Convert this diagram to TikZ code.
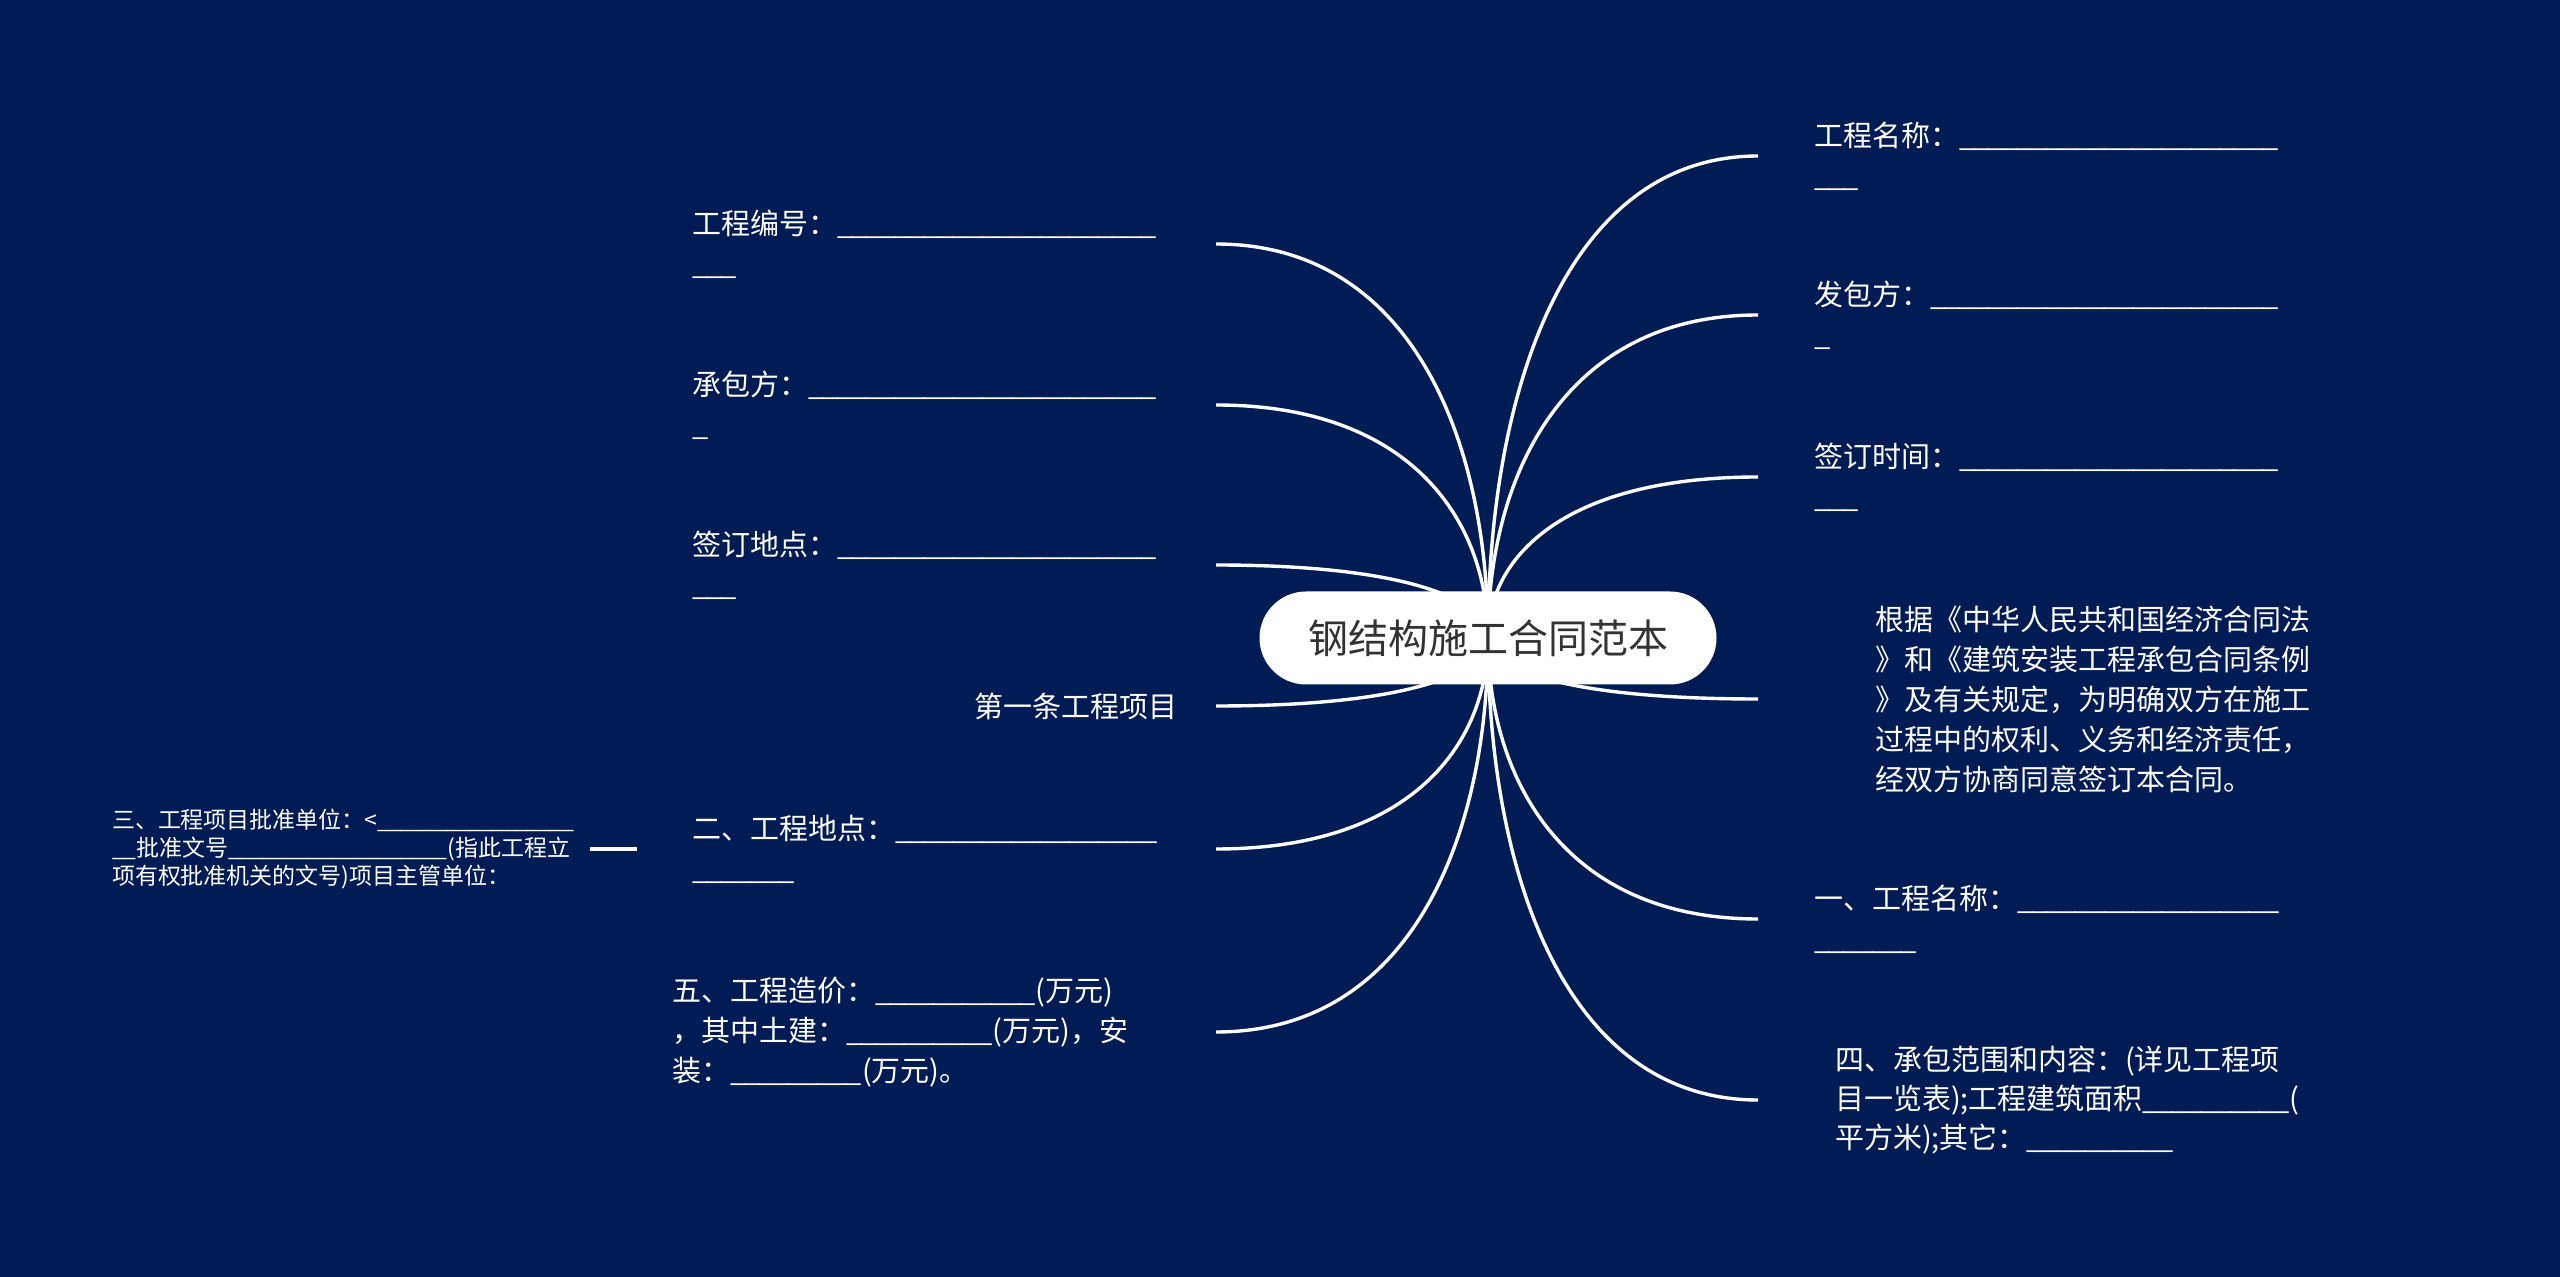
\documentclass[tikz,border=0pt]{standalone}
\usepackage{fontspec}
\setmainfont{Noto Sans CJK SC}
\usetikzlibrary{calc,shapes.misc}
\definecolor{bgblue}{RGB}{1,27,84}
\definecolor{ctext}{RGB}{51,51,51}
\ExplSyntaxOn
\NewDocumentCommand\usc{m}{\prg_replicate:nn{#1}{\textunderscore\kern-0.06em}\kern0.06em}
\ExplSyntaxOff
\pgfdeclarelayer{back}
\pgfsetlayers{back,main}
\newcommand\mmlink[1]{\draw[conn] (c.center) .. controls ($(c.center)!0.5!(c.center|-#1)$) and ($(#1)!0.72!(c.center|-#1)$) .. (#1);}
\begin{document}
\begin{tikzpicture}[x=0.5pt,y=-0.5pt,
  conn/.style={draw=white,line width=1.7pt},
  leaf/.style={text=white,inner sep=0pt,outer sep=0pt,align=left,font=\fontsize{14.5pt}{20pt}\selectfont},
  small/.style={text=white,inner sep=0pt,outer sep=0pt,align=left,font=\fontsize{11.5pt}{14pt}\selectfont},
  centre/.style={rounded rectangle,fill=white,minimum width=228.5pt,minimum height=46.5pt,inner sep=0pt,text=ctext,font=\fontsize{20pt}{24pt}\selectfont}]
\useasboundingbox (0,0) rectangle (2560,1277);
\begin{pgfonlayer}{back}
\fill[bgblue] (0,0) rectangle (2560,1277);
\end{pgfonlayer}

\node[centre] (c) at (1488,638) {钢结构施工合同范本};

\coordinate (xL) at (1216,0);
\coordinate (xR) at (1758,0);

% left side
\node[leaf,anchor=west] (n1) at (692,244) {工程编号：\usc{22}\\\usc{3}};
\node[leaf,anchor=west] (n2) at (692,405) {承包方：\usc{24}\\\usc{1}};
\node[leaf,anchor=west] (n3) at (692,565) {签订地点：\usc{22}\\\usc{3}};
\node[leaf,anchor=east] (n4) at (1177,706) {第一条工程项目};
\node[leaf,anchor=west] (n5) at (692,849) {二、工程地点：\usc{18}\\\usc{7}};
\node[leaf,anchor=west] (n6) at (672,1032) {五、工程造价：\usc{11}(万元)\\，其中土建：\usc{10}(万元)，安\\装：\usc{9}(万元)。};
\node[small,anchor=west] (n7) at (112,849) {三、工程项目批准单位：<\usc{17}\\\usc{2}批准文号\usc{19}(指此工程立\\项有权批准机关的文号)项目主管单位：};

% right side
\node[leaf,anchor=west] (n8) at (1814,156) {工程名称：\usc{22}\\\usc{3}};
\node[leaf,anchor=west] (n9) at (1814,315) {发包方：\usc{24}\\\usc{1}};
\node[leaf,anchor=west] (n10) at (1814,477) {签订时间：\usc{22}\\\usc{3}};
\node[leaf,anchor=west] (n11) at (1875,699) {根据《中华人民共和国经济合同法\\》和《建筑安装工程承包合同条例\\》及有关规定，为明确双方在施工\\过程中的权利、义务和经济责任，\\经双方协商同意签订本合同。};
\node[leaf,anchor=west] (n12) at (1814,919) {一、工程名称：\usc{18}\\\usc{7}};
\node[leaf,anchor=west,font=\fontsize{14.5pt}{19.5pt}\selectfont] (n13) at (1835,1100) {四、承包范围和内容：(详见工程项\\目一览表);工程建筑面积\usc{10}(\\平方米);其它：\usc{10}};

% connector end points
\foreach \n in {n1,n2,n3,n4,n5,n6}{\coordinate (e\n) at (\n.west -| xL);}
\foreach \n in {n8,n9,n10,n11,n12,n13}{\coordinate (e\n) at (\n.west -| xR);}

\begin{pgfonlayer}{back}
\foreach \n in {n1,n2,n3,n4,n5,n6,n8,n9,n10,n11,n12,n13}{\mmlink{e\n}}
\draw[conn] ($(n7.east)+(16,0)$) -- ($(n5.west)+(-55,0)$);
\end{pgfonlayer}
\end{tikzpicture}
\end{document}
